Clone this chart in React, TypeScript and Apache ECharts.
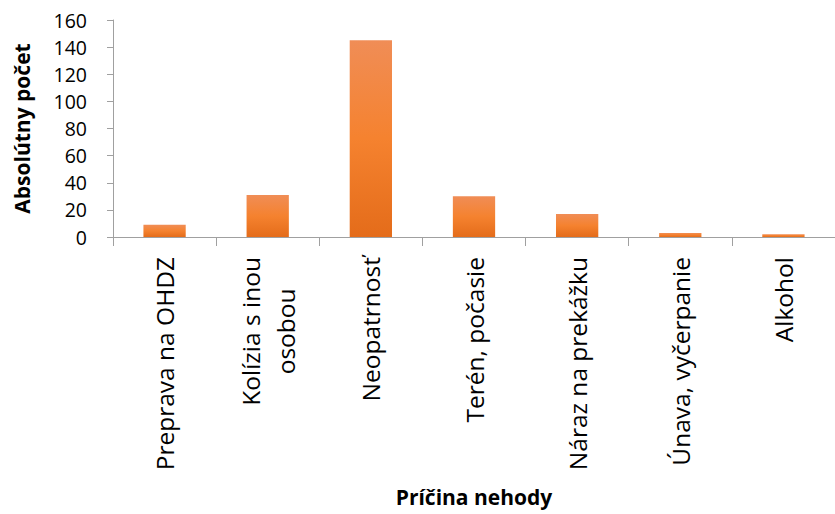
import React, { useEffect, useRef } from "react";
import * as echarts from "echarts";

const categories = [
  "Preprava na OHDZ",
  "Kolízia s inou\nosobou",
  "Neopatrnosť",
  "Terén, počasie",
  "Náraz na prekážku",
  "Únava, vyčerpanie",
  "Alkohol",
];
const values = [9, 31, 145, 30, 17, 3, 2];
const yTicks = { min: 0, max: 160, interval: 20 };
const xTitle = "Príčina nehody";
const yTitle = "Absolútny počet";

const FONT = "'Open Sans', sans-serif";

export default function App() {
  const ref = useRef<HTMLDivElement>(null);
  useEffect(() => {
    if (!ref.current) return;
    const chart = echarts.init(ref.current, undefined, { renderer: "svg" });
    chart.setOption({
      animation: false,
      grid: { left: 113, right: -2, top: 20, bottom: 277, containLabel: false },
      xAxis: {
        type: "category",
        data: categories,
        name: xTitle,
        nameLocation: "middle",
        nameGap: 249,
        nameTextStyle: { fontFamily: FONT, fontSize: 21, fontWeight: "bold", color: "#000" },
        axisLine: { lineStyle: { color: "#A0A0A0", width: 1 } },
        axisTick: { show: true, length: 9, lineStyle: { color: "#A0A0A0" } },
        axisLabel: {
          rotate: 90,
          margin: 20,
          interval: 0,
          color: "#000",
          fontFamily: FONT,
          fontSize: 24.5,
          lineHeight: 35,
          formatter: (v: string) => {
            const parts = v.split("\n");
            if (parts.length === 1) return v;
            return parts.map((p) => "{c|" + p + "}").join("\n");
          },
          rich: {
            c: { align: "center", fontFamily: FONT, fontSize: 24.5, lineHeight: 35, color: "#000" },
          },
        },
      },
      yAxis: {
        type: "value",
        min: yTicks.min,
        max: yTicks.max,
        interval: yTicks.interval,
        name: yTitle,
        nameLocation: "middle",
        nameRotate: 90,
        nameGap: 80,
        nameTextStyle: { fontFamily: FONT, fontSize: 21, fontWeight: "bold", color: "#000", lineHeight: 22 },
        axisLine: { show: true, lineStyle: { color: "#A0A0A0", width: 1 } },
        axisTick: { show: true, length: 6, lineStyle: { color: "#A0A0A0" } },
        splitLine: { show: false },
        axisLabel: { margin: 26, color: "#000", fontFamily: FONT, fontSize: 19.5, lineHeight: 20 },
      },
      series: [
        {
          type: "bar",
          data: values,
          barWidth: "41%",
          itemStyle: {
            color: new echarts.graphic.LinearGradient(0, 0, 0, 1, [
              { offset: 0, color: "#F08D56" },
              { offset: 0.5, color: "#F5822F" },
              { offset: 1, color: "#E46C1A" },
            ]),
          },
        },
      ],
    });
    return () => chart.dispose();
  }, []);
  return (
    <div
      ref={ref}
      style={{ position: "fixed", left: 0, top: 0, width: 835, height: 514, background: "#fff" }}
    />
  );
}
